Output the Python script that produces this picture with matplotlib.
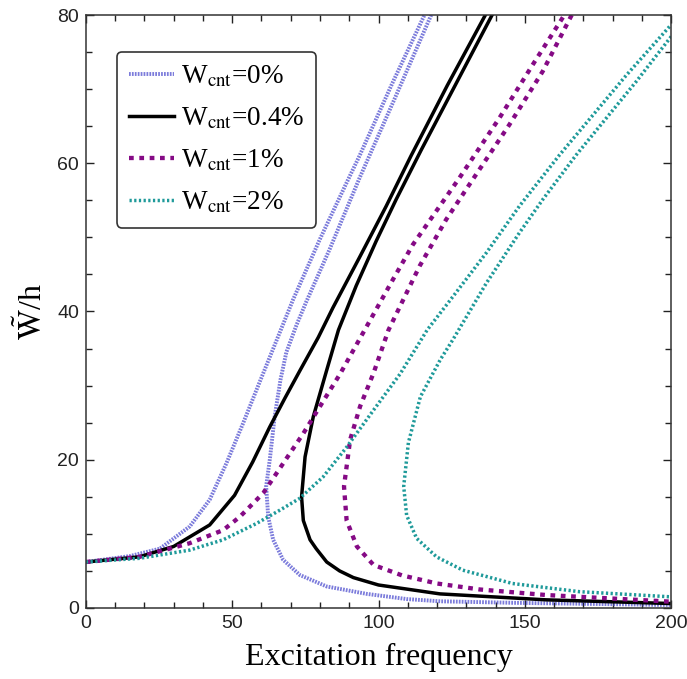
import matplotlib
matplotlib.use("Agg")
import matplotlib.pyplot as plt

plt.rcParams['mathtext.fontset'] = 'stix'
plt.rcParams['font.family'] = ['Liberation Serif', 'DejaVu Serif']

# ---- data ----
labels = [r"W$_{\mathrm{cnt}}$=0%", r"W$_{\mathrm{cnt}}$=0.4%",
          r"W$_{\mathrm{cnt}}$=1%", r"W$_{\mathrm{cnt}}$=2%"]

# W_cnt = 0 %
blue_left_x = [0, 15.0, 25.3, 35.5, 42.3, 48.0, 53.7, 59.4, 70.8, 79.9, 89.0, 93.5, 104.6, 115.7]
blue_left_y = [6.2, 7.0, 8.0, 11.0, 14.6, 19.5, 24.9, 30.5, 41.6, 49.7, 57.3, 61.0, 70.7, 80.0]
blue_right_x = [118.0, 105.5, 93.5, 83.3, 75.3, 72.0, 68.5, 66.5, 64.5, 62.9, 61.6, 62.3, 64.0, 67.4, 73.1, 82.3, 96.0, 109.7, 121.1, 145.8, 200.0]
blue_right_y = [80.0, 68.7, 58.0, 48.4, 41.3, 38.2, 34.5, 30.8, 25.8, 20.2, 16.4, 12.3, 9.2, 6.5, 4.45, 2.9, 1.9, 1.2, 0.9, 0.7, 0.4]

# W_cnt = 0.4 %
black_left_x = [0, 18.3, 30.0, 42.3, 50.8, 57.0, 62.8, 68.0, 73.1, 79.4, 84.4, 93.5, 102.6, 111.1, 123.5, 136.5]
black_left_y = [6.2, 6.9, 8.3, 11.2, 15.2, 19.7, 24.4, 28.3, 32.0, 36.5, 40.5, 47.3, 54.2, 61.0, 70.5, 80.0]
black_right_x = [138.8, 114.6, 106.0, 99.2, 92.4, 86.3, 82.3, 77.7, 74.9, 73.7, 74.3, 76.6, 78.7, 82.3, 86.7, 91.4, 100.0, 121.0, 157.2, 200.0]
black_right_y = [80.0, 61.8, 55.1, 49.5, 43.5, 37.5, 32.1, 25.8, 20.4, 15.0, 11.8, 9.2, 8.0, 6.2, 5.0, 4.1, 3.1, 1.9, 1.1, 0.6]

# W_cnt = 1 %
purple_left_x = [0, 18.3, 35.4, 46.9, 52.6, 60.6, 67.4, 74.3, 80.0, 86.9, 93.7, 104.9, 111.7, 127.6, 141.3, 152.7, 163.5]
purple_left_y = [6.2, 6.9, 8.73, 10.5, 12.3, 15.5, 19.5, 23.55, 27.2, 31.6, 36.4, 44.3, 49.0, 58.0, 66.1, 73.3, 80.0]
purple_right_x = [166.0, 156.1, 144.7, 131.0, 123.1, 114.0, 103.4, 98.3, 93.7, 90.3, 88.2, 89.1, 92.6, 98.3, 108.0, 120.0, 134.5, 157.2, 200.0]
purple_right_y = [80.0, 72.4, 65.2, 57.1, 52.4, 46.1, 37.5, 31.7, 27.2, 22.7, 16.4, 11.8, 8.3, 5.8, 4.4, 3.3, 2.5, 1.75, 0.85]

# W_cnt = 2 %
teal_left_x = [0, 18.3, 35.4, 46.9, 58.3, 66.3, 73.1, 81.1, 89.1, 98.3, 107.4, 116.6, 125.4, 136.8, 148.1, 161.8, 184.5, 200.0]
teal_left_y = [6.2, 6.7, 7.8, 9.2, 11.4, 13.2, 14.8, 17.7, 21.7, 26.7, 31.6, 37.5, 42.0, 47.9, 54.2, 61.1, 71.8, 78.7]
teal_right_x = [200.0, 188.0, 167.5, 156.1, 148.1, 136.8, 125.4, 121.1, 114.3, 110.2, 108.6, 109.6, 113.0, 119.8, 128.8, 145.8, 168.6, 200.0]
teal_right_y = [77.1, 71.0, 61.1, 55.1, 50.6, 43.8, 36.2, 33.5, 28.5, 22.3, 16.4, 12.5, 9.4, 6.9, 5.1, 3.3, 2.2, 1.5]

x_ticks = [0, 50, 100, 150, 200]
y_ticks = [0, 20, 40, 60, 80]

# ---- figure ----
fig = plt.figure(figsize=(6.87, 6.79), dpi=100)
ax = fig.add_axes([0.125, 0.1046, 0.852, 0.8733])

styles = [
    dict(color='#5a5ad2', lw=2.8, ls=(0, (0.45, 0.3)), alpha=0.8),
    dict(color='black', lw=2.5, ls='-'),
    dict(color='#850a85', lw=3.1, ls=(0, (1.1, 1.3))),
    dict(color='#1f9a9a', lw=2.5, ls=(0, (0.65, 0.7))),
]
branches = [
    (blue_left_x, blue_left_y, blue_right_x, blue_right_y),
    (black_left_x, black_left_y, black_right_x, black_right_y),
    (purple_left_x, purple_left_y, purple_right_x, purple_right_y),
    (teal_left_x, teal_left_y, teal_right_x, teal_right_y),
]
handles = []
for (lx, ly, rx, ry), st, lab in zip(branches, styles, labels):
    h, = ax.plot(lx, ly, label=lab, solid_joinstyle='round', **st)
    ax.plot(rx, ry, solid_joinstyle='round', **st)
    handles.append(h)

ax.set_xlim(0, 200)
ax.set_ylim(0, 80)
ax.set_xticks(x_ticks)
ax.set_yticks(y_ticks)
ax.set_xticks(range(0, 201, 10), minor=True)
ax.set_yticks(range(0, 81, 5), minor=True)
ax.tick_params(which='both', direction='in', top=True, right=True,
               labelsize=14, colors='#222222', labelcolor='#222222', pad=5)
ax.tick_params(which='major', length=6, width=1)
ax.tick_params(which='minor', length=4, width=1)
for lab in ax.get_xticklabels() + ax.get_yticklabels():
    lab.set_fontfamily('Liberation Sans')
for sp in ax.spines.values():
    sp.set_color('#333333')
    sp.set_linewidth(1.1)

ax.set_xlabel('Excitation frequency', fontsize=23, labelpad=8)
ax.set_ylabel(r'$\tilde{\mathrm{W}}$/h', fontsize=23, labelpad=6)

leg = ax.legend(handles=handles, loc='upper left', bbox_to_anchor=(0.053, 0.9376),
                borderaxespad=0, fontsize=19.5, handlelength=1.65, handletextpad=0.25,
                labelspacing=0.6, borderpad=0.45, fancybox=True, framealpha=1)
leg.get_frame().set_edgecolor('#333333')
leg.get_frame().set_linewidth(1.2)

fig.savefig('out.png', dpi=100)
